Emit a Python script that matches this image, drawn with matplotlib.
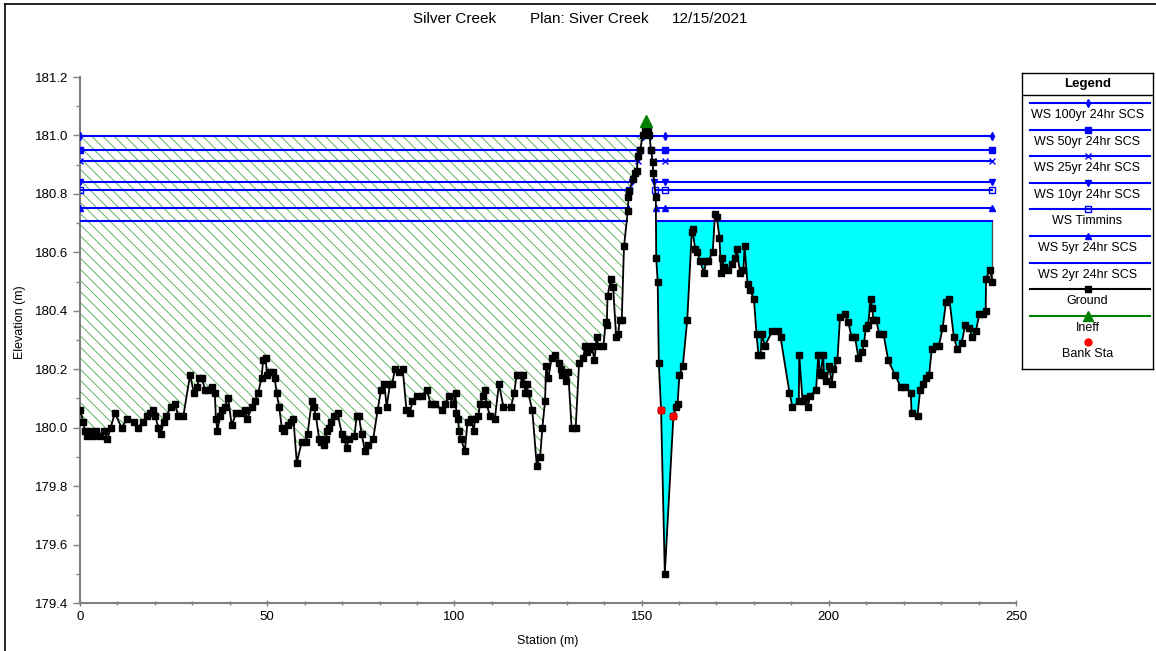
import numpy as np
import matplotlib
matplotlib.use("Agg")
import matplotlib.pyplot as plt
from matplotlib.lines import Line2D

plt.rcParams['font.family'] = ['Liberation Sans', 'DejaVu Sans']
plt.rcParams['hatch.linewidth'] = 0.6

# ---------------- data ----------------
title_parts = ["Silver Creek", "Plan: Siver Creek", "12/15/2021"]

ground_sta = [
    0.0, 0.9, 1.3, 2.0, 2.8, 3.4, 4.4, 5.3, 6.4, 7.3, 8.2, 9.3, 11.1, 12.6, 14.3, 15.6, 16.7, 17.8, 18.7, 19.6,
    20.1, 20.9, 21.6, 22.4, 23.1, 24.2, 25.4, 26.2, 27.6, 29.4, 30.4, 31.3, 31.8, 32.5, 33.4, 34.1, 35.3, 36.0,
    36.3, 36.7, 37.4, 38.0, 38.6, 39.6, 40.5, 41.8, 42.9, 44.1, 44.6, 46.0, 46.7, 47.6, 48.5, 48.9, 49.6, 49.9,
    50.7, 51.6, 52.0, 52.5, 53.2, 53.9, 54.6, 55.5, 56.4, 57.0, 57.9, 59.2, 60.3, 60.8, 61.9, 62.4, 63.0, 63.9,
    64.4, 65.2, 65.6, 66.0, 66.5, 67.0, 67.9, 68.8, 69.9, 70.6, 71.2, 71.8, 73.3, 73.9, 74.5, 75.2, 76.1, 77.0,
    78.3, 79.5, 80.4, 81.3, 81.9, 82.8, 83.4, 84.1, 85.2, 86.2, 87.2, 88.1, 88.8, 89.9, 91.3, 92.6, 93.7, 94.8,
    96.6, 97.5, 98.6, 99.7, 100.3, 100.5, 101.0, 101.2, 101.8, 102.8, 103.5, 104.4, 105.2, 105.5, 106.4, 106.8,
    107.7, 108.2, 108.6, 109.5, 110.8, 111.9, 113.1, 115.1, 116.0, 116.6, 117.5, 118.2, 118.4, 118.9, 119.3,
    119.7, 120.8, 122.0, 122.9, 123.5, 124.2, 124.5, 125.1, 126.0, 126.9, 128.0, 128.5, 128.7, 129.7, 130.4,
    131.3, 132.4, 133.3, 134.4, 135.0, 135.3, 135.9, 136.7, 137.4, 138.0, 138.4, 139.8, 140.4, 140.7, 140.9,
    141.8, 142.4, 143.2, 143.8, 144.1, 144.7, 145.3, 146.3, 146.5, 146.6, 147.8, 148.3, 148.7, 149.1, 149.6,
    150.3, 150.9, 151.8, 152.1, 152.5, 153.0, 153.1, 153.8, 153.9, 154.3, 154.6, 155.2, 156.2, 158.5, 159.2,
    159.6, 160.1, 161.0, 162.2, 163.4, 163.6, 164.3, 164.9, 165.6, 166.7, 167.2, 167.8, 169.0, 169.6, 170.1,
    170.8, 171.2, 171.4, 172.1, 173.2, 174.1, 175.0, 175.4, 176.3, 177.2, 177.5, 178.3, 179.0, 180.0, 180.7,
    181.2, 181.8, 182.1, 182.9, 184.9, 186.5, 187.1, 189.5, 190.3, 192.0, 192.1, 193.0, 193.6, 194.4, 195.0,
    196.6, 197.2, 197.6, 197.8, 198.5, 198.7, 199.3, 200.1, 200.8, 201.2, 202.3, 203.0, 204.3, 205.2, 206.1,
    207.0, 207.9, 209.0, 209.4, 209.9, 210.5, 211.2, 211.6, 211.9, 212.6, 213.5, 214.6, 215.9, 217.7, 219.2,
    220.4, 221.9, 222.1, 223.7, 224.4, 225.1, 225.9, 226.8, 227.5, 228.6, 229.4, 230.4, 231.3, 232.2, 233.4,
    234.3, 235.5, 236.4, 237.5, 238.3, 239.3, 240.2, 241.1, 241.9, 242.0, 243.0, 243.7,
]
ground_elev = [
    180.06, 180.02, 179.99, 179.97, 179.99, 179.97, 179.99, 179.97, 179.99, 179.96, 180.00, 180.05, 180.00,
    180.03, 180.02, 180.00, 180.02, 180.04, 180.05, 180.06, 180.04, 180.00, 179.98, 180.02, 180.04, 180.07,
    180.08, 180.04, 180.04, 180.18, 180.12, 180.14, 180.17, 180.17, 180.13, 180.13, 180.14, 180.12, 180.03,
    179.99, 180.04, 180.06, 180.07, 180.10, 180.01, 180.05, 180.05, 180.06, 180.03, 180.07, 180.09, 180.12,
    180.17, 180.23, 180.24, 180.18, 180.19, 180.19, 180.17, 180.12, 180.07, 180.00, 179.99, 180.01, 180.02,
    180.03, 179.88, 179.95, 179.95, 179.98, 180.09, 180.07, 180.04, 179.96, 179.95, 179.94, 179.96, 179.99,
    180.00, 180.02, 180.04, 180.05, 179.98, 179.96, 179.93, 179.96, 179.97, 180.04, 180.04, 179.98, 179.92,
    179.94, 179.96, 180.06, 180.13, 180.15, 180.07, 180.15, 180.15, 180.20, 180.19, 180.20, 180.06, 180.05,
    180.09, 180.11, 180.11, 180.13, 180.08, 180.08, 180.06, 180.08, 180.11, 180.08, 180.12, 180.05, 180.03,
    179.99, 179.96, 179.92, 180.02, 180.03, 179.99, 180.03, 180.04, 180.08, 180.11, 180.13, 180.08, 180.04,
    180.03, 180.15, 180.07, 180.07, 180.12, 180.18, 180.18, 180.15, 180.18, 180.12, 180.15, 180.12, 180.06,
    179.87, 179.90, 180.00, 180.09, 180.21, 180.17, 180.24, 180.25, 180.22, 180.20, 180.18, 180.16, 180.19,
    180.00, 180.00, 180.22, 180.24, 180.28, 180.26, 180.27, 180.28, 180.23, 180.31, 180.28, 180.28, 180.36,
    180.35, 180.45, 180.51, 180.48, 180.31, 180.32, 180.37, 180.37, 180.62, 180.74, 180.79, 180.81, 180.85,
    180.87, 180.88, 180.93, 180.95, 181.00, 181.02, 181.02, 181.00, 180.95, 180.91, 180.87, 180.79, 180.58,
    180.50, 180.22, 180.06, 179.50, 180.04, 180.07, 180.08, 180.18, 180.21, 180.37, 180.67, 180.68, 180.61,
    180.60, 180.57, 180.53, 180.57, 180.57, 180.60, 180.73, 180.72, 180.65, 180.53, 180.58, 180.55, 180.54,
    180.56, 180.58, 180.61, 180.53, 180.54, 180.62, 180.49, 180.47, 180.44, 180.32, 180.25, 180.25, 180.32,
    180.28, 180.33, 180.33, 180.31, 180.12, 180.07, 180.09, 180.25, 180.09, 180.10, 180.07, 180.11, 180.13,
    180.25, 180.19, 180.18, 180.25, 180.18, 180.16, 180.21, 180.15, 180.20, 180.23, 180.38, 180.39, 180.36,
    180.31, 180.31, 180.24, 180.26, 180.29, 180.34, 180.35, 180.44, 180.41, 180.37, 180.37, 180.32, 180.32,
    180.23, 180.18, 180.14, 180.14, 180.12, 180.05, 180.04, 180.13, 180.15, 180.17, 180.18, 180.27, 180.28,
    180.28, 180.34, 180.43, 180.44, 180.31, 180.27, 180.29, 180.35, 180.34, 180.31, 180.33, 180.39, 180.39,
    180.40, 180.51, 180.54, 180.50,
]

ws_names = ["WS 100yr 24hr SCS", "WS 50yr 24hr SCS", "WS 25yr 24hr SCS", "WS 10yr 24hr SCS",
            "WS Timmins", "WS 5yr 24hr SCS", "WS 2yr 24hr SCS"]
ws_elev = [180.997, 180.951, 180.913, 180.842, 180.814, 180.753, 180.707]
ws_markers = ['d', 's', 'x', 'v', 's', '^', None]
ws_fill = ['full', 'full', 'full', 'full', 'none', 'full', 'full']

ineff_sta = [151.3]
ineff_elev = [181.05]
bank_sta = [155.2, 158.5]
bank_elev = [180.06, 180.04]

x_ticks = [0, 50, 100, 150, 200, 250]
y_ticks = [179.4, 179.6, 179.8, 180.0, 180.2, 180.4, 180.6, 180.8, 181.0, 181.2]

# ---------------- figure ----------------
W, H = 1156, 651
fig = plt.figure(figsize=(W / 100, H / 100), dpi=100)
ax = fig.add_axes([80 / W, 1 - 603 / H, 936 / W, 526 / H])

st = np.array(ground_sta)
gr = np.array(ground_elev)
pk = int(np.argmax(gr))

def left_cross(level):
    i = pk
    while gr[i] >= level:
        i -= 1
    return np.interp(level, [gr[i], gr[i + 1]], [st[i], st[i + 1]])

def right_cross(level):
    j = pk
    while gr[j] >= level:
        j += 1
    return np.interp(level, [gr[j], gr[j - 1]], [st[j], st[j - 1]])

blue = '#0000ff'
green_hatch = '#4aa84a'

# ineffective (hatched) area
ax.fill_between(st, gr, ws_elev[0], where=(st <= ineff_sta[0]) & (gr < ws_elev[0]),
                interpolate=True, facecolor='none', edgecolor=green_hatch,
                hatch='\\\\\\', linewidth=0, zorder=1)

# cyan effective flow area (lowest water surface)
ax.fill_between(st, gr, ws_elev[-1], where=(st >= st[pk]) & (gr < ws_elev[-1]),
                interpolate=True, facecolor='#00ffff', edgecolor='none', zorder=1)
ax.vlines(st[-1], gr[-1], ws_elev[-1], color='#555555', lw=1, zorder=2)

# water surface lines
bottom_sta = st[int(np.argmin(gr))]
for name, lv, mk, fs in zip(ws_names, ws_elev, ws_markers, ws_fill):
    xl = left_cross(lv)
    xr = right_cross(lv)
    ax.plot([st[0], xl], [lv, lv], color=blue, lw=1.5, zorder=3)
    ax.plot([xr, st[-1]], [lv, lv], color=blue, lw=1.5, zorder=3)
    if mk is not None:
        ms = 4 if mk == 'd' else 5
        ax.plot([st[0], xl, xr, bottom_sta, st[-1]], [lv] * 5, ls='none', marker=mk,
                color=blue, ms=ms, fillstyle=fs, mew=1, zorder=4)

# ground
ax.plot(st, gr, color='black', lw=1.3, marker='s', ms=4.2, zorder=5)
# ineffective marker
ax.plot(ineff_sta, ineff_elev, ls='none', marker='^', color='#008000', ms=8, zorder=6)
# bank stations
ax.plot(bank_sta, bank_elev, ls='none', marker='o', color='red', ms=5, zorder=6)

ax.set_xlim(0, 250)
ax.set_ylim(179.4, 181.2)
ax.set_xticks(x_ticks)
ax.set_xticks(np.arange(0, 251, 10), minor=True)
ax.set_yticks(y_ticks)
ax.set_yticks(np.arange(179.4, 181.21, 0.1), minor=True)
ax.set_yticklabels([f"{v:.1f}" for v in y_ticks])
for s in ['top', 'right']:
    ax.spines[s].set_visible(False)
for s in ['left', 'bottom']:
    ax.spines[s].set_color('#808080')
    ax.spines[s].set_linewidth(1.5)
ax.tick_params(axis='both', which='major', labelsize=9.5, color='#808080', length=5, width=1)
ax.tick_params(axis='both', which='minor', color='#808080', length=3, width=1)
ax.tick_params(axis='x', which='both', direction='inout')

# axis labels
fig.text(548 / W, 1 - 641 / H, "Station (m)", fontsize=9, ha='center', va='center')
fig.text(20 / W, 1 - 322 / H, "Elevation (m)", fontsize=9, ha='center', va='center', rotation=90)

# title
fig.text(413 / W, 1 - 19 / H, title_parts[0], fontsize=11, va='center', ha='left')
fig.text(530 / W, 1 - 19 / H, title_parts[1], fontsize=11, va='center', ha='left')
fig.text(672 / W, 1 - 19 / H, title_parts[2], fontsize=11, va='center', ha='left')

# outer frame
fig.add_artist(Line2D([5 / W, 5 / W], [0, 1 - 4 / H], color='black', lw=1.2))
fig.add_artist(Line2D([5 / W, 1], [1 - 4 / H, 1 - 4 / H], color='black', lw=1.2))

# ---------------- legend (custom box) ----------------
lx0, ly0, lx1, ly1 = 1022, 73, 1153, 369
lax = fig.add_axes([lx0 / W, 1 - ly1 / H, (lx1 - lx0) / W, (ly1 - ly0) / H])
lax.set_xlim(lx0, lx1)
lax.set_ylim(ly1, ly0)
lax.set_xticks([])
lax.set_yticks([])
for s in lax.spines.values():
    s.set_color('black')
    s.set_linewidth(1)
lax.text((lx0 + lx1) / 2, 84, "Legend", ha='center', va='center', fontsize=9.5, fontweight='bold')
lax.plot([lx0, lx1], [95, 95], color='black', lw=1)
cx = (lx0 + lx1) / 2
step = 26.6
for k, (name, mk, fs) in enumerate(zip(ws_names, ws_markers, ws_fill)):
    yl = 103 + k * step
    lax.plot([1030, 1150], [yl, yl], color=blue, lw=1.5)
    if mk is not None:
        lax.plot([cx], [yl], ls='none', marker=mk, color=blue, ms=4 if mk == 'd' else 5,
                 fillstyle=fs, mew=1)
    lax.text(cx, yl + 12, name, ha='center', va='center', fontsize=9)
yl = 103 + 7 * step
lax.plot([1030, 1150], [yl, yl], color='black', lw=1.5)
lax.plot([cx], [yl], ls='none', marker='s', color='black', ms=5)
lax.text(cx, yl + 12, "Ground", ha='center', va='center', fontsize=9)
yl = 103 + 8 * step
lax.plot([1030, 1150], [yl, yl], color='#008000', lw=1.5)
lax.plot([cx], [yl], ls='none', marker='^', color='#008000', ms=7)
lax.text(cx, yl + 12, "Ineff", ha='center', va='center', fontsize=9)
yl = 103 + 9 * step
lax.plot([cx], [yl], ls='none', marker='o', color='red', ms=5)
lax.text(cx, yl + 12, "Bank Sta", ha='center', va='center', fontsize=9)

fig.savefig("out.png", dpi=100)
